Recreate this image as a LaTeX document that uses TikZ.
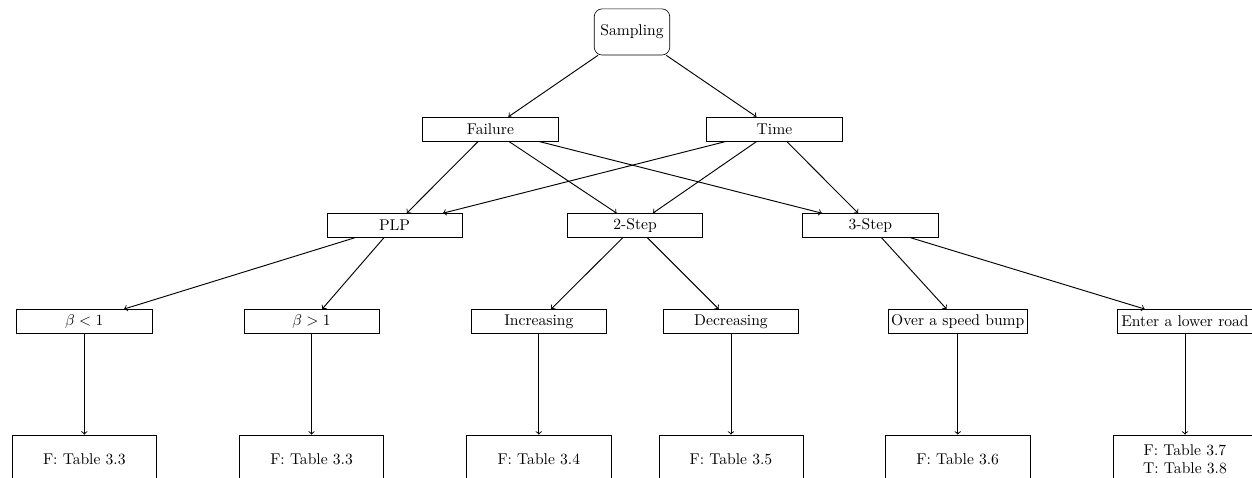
\documentclass[tikz,border=0pt]{standalone}
\usepackage{amsmath,amssymb}
\usepackage{tikz}
\usetikzlibrary{positioning,calc}

\begin{document}
\begin{tikzpicture}[
    rootbox/.style={draw, rounded corners=5pt, minimum width=1.7cm, minimum height=1.04cm},
    catbox/.style={draw, minimum width=3.05cm, minimum height=0.54cm, inner sep=2pt},
    tabbox/.style={draw, minimum width=3.25cm, minimum height=1.1cm, align=center, inner sep=2pt},
    link/.style={->, semithick}]
                    \useasboundingbox (0,0) rectangle (28.21,-10.77);
                    % 根节点
                    \node[rootbox] (samp) at (14.24,-0.72) {Sampling};
                    % 第二层
                    \node[catbox] (fail) at (11.05,-2.91) {Failure};
                    \node[catbox] (time) at (17.45,-2.91) {Time};
                    % 第三层
                    \node[catbox] (plp) at (8.89,-5.08) {PLP};
                    \node[catbox] (two) at (14.31,-5.08) {2-Step};
                    \node[catbox] (three) at (19.61,-5.08) {3-Step};
                    % 第四层
                    \node[catbox] (blt) at (1.90,-7.24) {$\beta<1$};
                    \node[catbox] (bgt) at (7.02,-7.24) {$\beta>1$};
                    \node[catbox] (inc) at (12.14,-7.24) {Increasing};
                    \node[catbox] (dec) at (16.47,-7.24) {Decreasing};
                    \node[catbox] (bump) at (21.58,-7.24) {Over a speed bump};
                    \node[catbox] (road) at (26.70,-7.24) {Enter a lower road};
                    % 表格
                    \node[tabbox] (tblt) at (1.90,-10.35) {F: Table 3.3};
                    \node[tabbox] (tbgt) at (7.02,-10.35) {F: Table 3.3};
                    \node[tabbox] (tinc) at (12.14,-10.35) {F: Table 3.4};
                    \node[tabbox] (tdec) at (16.47,-10.35) {F: Table 3.5};
                    \node[tabbox] (tbump) at (21.58,-10.35) {F: Table 3.6};
                    \node[tabbox] (troad) at (26.70,-10.35) {F: Table 3.7\\T: Table 3.8};

                    \draw[link] (samp) -- (fail);
                    \draw[link] (samp) -- (time);
                    \draw[link] (fail) -- (plp);
                    \draw[link] (fail) -- (two);
                    \draw[link] (fail) -- (three);
                    \draw[link] (time) -- (plp);
                    \draw[link] (time) -- (two);
                    \draw[link] (time) -- (three);
                    \draw[link] (plp) -- (blt);
                    \draw[link] (plp) -- (bgt);
                    \draw[link] (two) -- (inc);
                    \draw[link] (two) -- (dec);
                    \draw[link] (three) -- (bump);
                    \draw[link] (three) -- (road);
                    \draw[link] (blt) -- (tblt);
                    \draw[link] (bgt) -- (tbgt);
                    \draw[link] (inc) -- (tinc);
                    \draw[link] (dec) -- (tdec);
                    \draw[link] (bump) -- (tbump);
                    \draw[link] (road) -- (troad);
                \end{tikzpicture}
\end{document}
